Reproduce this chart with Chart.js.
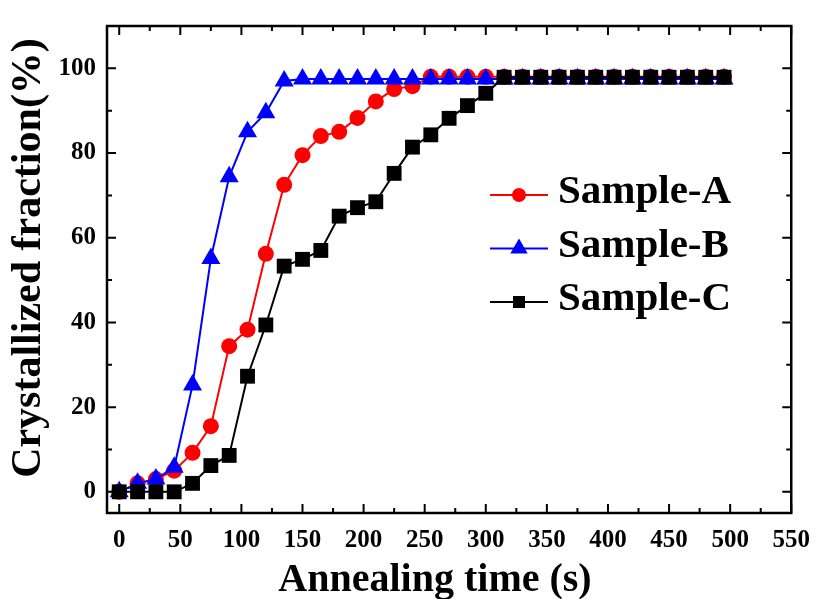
<!DOCTYPE html>
<html lang="en">
<head>
<meta charset="UTF-8">
<title>Crystallized fraction vs annealing time</title>
<script src="https://cdn.jsdelivr.net/npm/chart.js"></script>
<style>
  html, body { margin: 0; padding: 0; background: #fff; }
</style>
</head>
<body>
<canvas id="chart" width="823" height="599"></canvas>

<script>
// annealing times (s)
const times = [0, 15, 30, 45, 60, 75, 90, 105, 120, 135, 150, 165, 180, 195, 210, 225, 240,
               255, 270, 285, 300, 315, 330, 345, 360, 375, 390, 405, 420, 435, 450, 465, 480, 495];

// crystallized fraction (%)
const sampleA = [0, 2, 3, 5, 9.2, 15.5, 34.4, 38.3, 56.2, 72.5, 79.5, 84, 85, 88.3, 92.2, 95.1, 95.8,
                 98, 98, 98, 98, 98, 98, 98, 98, 98, 98, 98, 98, 98, 98, 98, 98, 98];
const sampleB = [0, 2, 3, 5.8, 25.2, 55.1, 74.4, 85, 89.5, 97, 97.5, 97.5, 97.5, 97.5, 97.5, 97.5, 97.5,
                 97.5, 97.5, 97.5, 97.5, 97.5, 97.5, 97.5, 97.5, 97.5, 97.5, 97.5, 97.5, 97.5, 97.5, 97.5, 97.5, 97.5];
const sampleC = [0, 0, 0, 0, 2, 6.2, 8.6, 27.3, 39.4, 53.3, 54.9, 57, 65.1, 67.1, 68.5, 75.2, 81.4,
                 84.3, 88.2, 91.2, 94.1, 97.9, 97.9, 97.9, 97.9, 97.9, 97.9, 97.9, 97.9, 97.9, 97.9, 97.9, 97.9, 97.9];

const seriesNames = ['Sample-A', 'Sample-B', 'Sample-C'];
const xTitle = 'Annealing time (s)';
const yTitle = 'Crystallized fraction(%)';

const serif = "'Liberation Serif', 'Times New Roman', serif";

function points(values) {
    return times.map((t, i) => ({ x: t, y: values[i] }));
}

// frame, inward ticks (major + minor) on all four sides, axis titles
const frameAndTicks = {
    id: 'frameAndTicks',
    afterDraw(chart) {
        const ctx = chart.ctx;
        const a = chart.chartArea;
        const x = chart.scales.x;
        const y = chart.scales.y;
        ctx.save();
        ctx.strokeStyle = '#000';
        ctx.lineWidth = 2;
        ctx.beginPath();
        const xs = x.ticks.map(t => t.value);
        xs.forEach((v, i) => {
            const px = x.getPixelForValue(v);
            ctx.moveTo(px, a.bottom); ctx.lineTo(px, a.bottom - 9);
            ctx.moveTo(px, a.top); ctx.lineTo(px, a.top + 9);
            if (i < xs.length - 1) {
                const mx = x.getPixelForValue((v + xs[i + 1]) / 2);
                ctx.moveTo(mx, a.bottom); ctx.lineTo(mx, a.bottom - 5);
                ctx.moveTo(mx, a.top); ctx.lineTo(mx, a.top + 5);
            }
        });
        const ys = y.ticks.map(t => t.value);
        ys.forEach((v, i) => {
            const py = y.getPixelForValue(v);
            ctx.moveTo(a.left, py); ctx.lineTo(a.left + 9, py);
            ctx.moveTo(a.right, py); ctx.lineTo(a.right - 9, py);
            if (i < ys.length - 1) {
                const my = y.getPixelForValue((v + ys[i + 1]) / 2);
                ctx.moveTo(a.left, my); ctx.lineTo(a.left + 5, my);
                ctx.moveTo(a.right, my); ctx.lineTo(a.right - 5, my);
            }
        });
        ctx.stroke();
        ctx.lineWidth = 2.5;
        ctx.strokeRect(a.left, a.top, a.right - a.left, a.bottom - a.top);

        // axis titles
        ctx.fillStyle = '#000';
        ctx.textAlign = 'center';
        ctx.textBaseline = 'alphabetic';
        ctx.font = 'bold 40px ' + serif;
        ctx.fillText(xTitle, 435, 591);
        ctx.translate(40, 258);
        ctx.rotate(-Math.PI / 2);
        ctx.font = 'bold 42px ' + serif;
        ctx.fillText(yTitle, 0, 0);
        ctx.restore();
    }
};

// legend inside the plot, upper right
const insideLegend = {
    id: 'insideLegend',
    afterDraw(chart) {
        const ctx = chart.ctx;
        ctx.save();
        chart.data.datasets.forEach((ds, i) => {
            const ly = 195 + i * 53.5;
            ctx.strokeStyle = ds.borderColor;
            ctx.fillStyle = ds.backgroundColor;
            ctx.lineWidth = 2;
            ctx.beginPath();
            ctx.moveTo(490, ly); ctx.lineTo(548, ly);
            ctx.stroke();
            const cx = 519;
            ctx.beginPath();
            if (ds.pointStyle === 'circle') {
                ctx.arc(cx, ly, 7, 0, Math.PI * 2);
            } else if (ds.pointStyle === 'triangle') {
                const r = 10;
                ctx.moveTo(cx, ly - r);
                ctx.lineTo(cx + 0.866 * r, ly + 0.5 * r);
                ctx.lineTo(cx - 0.866 * r, ly + 0.5 * r);
                ctx.closePath();
            } else {
                ctx.rect(cx - 6, ly - 6, 12, 12);
            }
            ctx.fill();
            ctx.fillStyle = '#000';
            ctx.font = 'bold 41px ' + serif;
            ctx.textAlign = 'left';
            ctx.textBaseline = 'alphabetic';
            ctx.fillText(ds.label, 558, ly + 8);
        });
        ctx.restore();
    }
};

const tickFont = { family: serif, size: 25, weight: 'bold' };

new Chart(document.getElementById('chart'), {
    type: 'line',
    data: {
        datasets: [
            {
                label: seriesNames[0],
                data: points(sampleA),
                borderColor: '#ff0000',
                backgroundColor: '#ff0000',
                pointStyle: 'circle',
                pointRadius: 8,
                borderWidth: 2,
                pointBorderWidth: 0,
                order: 3
            },
            {
                label: seriesNames[1],
                data: points(sampleB),
                borderColor: '#0000ff',
                backgroundColor: '#0000ff',
                pointStyle: 'triangle',
                pointRadius: 11,
                borderWidth: 2,
                pointBorderWidth: 0,
                order: 2
            },
            {
                label: seriesNames[2],
                data: points(sampleC),
                borderColor: '#000000',
                backgroundColor: '#000000',
                pointStyle: 'rect',
                pointRadius: 10.5,
                borderWidth: 2,
                pointBorderWidth: 0,
                order: 1
            }
        ]
    },
    options: {
        responsive: false,
        animation: false,
        clip: false,
        layout: { padding: { top: 7, right: 26, left: 0, bottom: 0 } },
        plugins: {
            legend: { display: false },
            tooltip: { enabled: false }
        },
        scales: {
            x: {
                type: 'linear',
                min: -10,
                max: 550,
                afterFit(s) { s.height = 86; },
                grid: { display: false, drawTicks: false },
                border: { display: false },
                ticks: {
                    stepSize: 50,
                    includeBounds: false,
                    autoSkip: false,
                    maxRotation: 0,
                    padding: 13,
                    color: '#000',
                    font: tickFont
                }
            },
            y: {
                min: -5,
                max: 110,
                afterFit(s) { s.width = 107; },
                grid: { display: false, drawTicks: false },
                border: { display: false },
                ticks: {
                    stepSize: 20,
                    includeBounds: false,
                    autoSkip: false,
                    padding: 11,
                    color: '#000',
                    font: tickFont
                }
            }
        }
    },
    plugins: [frameAndTicks, insideLegend]
});
</script>
</body>
</html>
